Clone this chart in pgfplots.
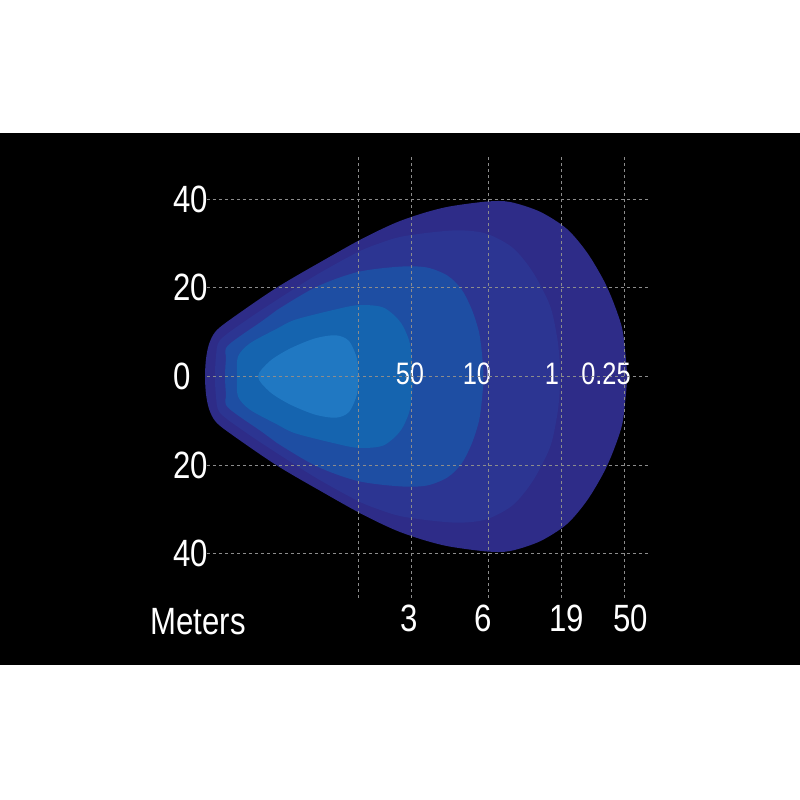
\documentclass[border=0pt]{standalone}
\usepackage{fontspec}
\setmainfont{Liberation Sans}[FakeStretch=0.82]
\usepackage{pgfplots}
\pgfplotsset{compat=1.18}
\definecolor{cA}{RGB}{46,44,136}
\definecolor{cB}{RGB}{44,53,146}
\definecolor{cC}{RGB}{30,78,163}
\definecolor{cD}{RGB}{21,100,175}
\definecolor{cE}{RGB}{32,120,194}
\definecolor{gridc}{RGB}{140,140,140}
\begin{document}
\begin{tikzpicture}
\fill[white] (0,0) rectangle (400pt,400pt);
\fill[black] (0,67.5pt) rectangle (400pt,333.5pt);
\begin{axis}[
  at={(103.5pt,101pt)}, anchor=south west,
  scale only axis, width=221.5pt, height=221.5pt,
  xmin=207, xmax=650, ymin=-50, ymax=50,
  clip=false, axis on top,
  axis line style={draw=none},
  major tick length=0pt,
  ytick={-40,-20,0,20,40}, yticklabels={40,20,0,20,40},
  xtick={409.5,483,567,631}, xticklabels={3,6,19,50},
  extra x ticks={358,411,488,561,624}, extra x tick labels={},
  extra x tick style={xmajorgrids=true},
  xmajorgrids=false, ymajorgrids=true,
  grid style={gridc, line width=0.45pt, dash pattern=on 1.6pt off 1.4pt},
  /pgf/number format/assume math mode=true,
  tick label style={white, font=\fontsize{19}{19}\selectfont},
  yticklabel style={anchor=west, inner sep=0pt, xshift=-17pt},
  xticklabel style={anchor=north, inner sep=0pt, yshift=-3.5pt},
]
% 0.25 lux
\addplot[draw=none, fill=cA, smooth cycle] coordinates {
(627,0) (625.5,5) (622,11) (613,17) (603,22) (587,28) (567,33.3) (540,37.2) (510,39.4) (487,39.5) (450,38.4) (425,37.0) (400,35.1) (380,33.1) (358,30.6) (328,26.8) (277,20.1) (228,12.5) (215,10) (209,7.3) (206,4) (205,0)
(206,-4) (209,-7.3) (215,-10) (228,-12.5) (277,-20.1) (328,-26.8) (358,-30.6) (380,-33.1) (400,-35.1) (425,-37.0) (450,-38.4) (487,-39.5) (510,-39.4) (540,-37.2) (567,-33.3) (587,-28) (603,-22) (613,-17) (622,-11) (625.5,-5)
};
% 1 lux
\addplot[draw=none, fill=cB, smooth cycle] coordinates {
(560,0) (559.5,4) (557,9) (550,16) (533,23.5) (513,29) (487,32.2) (460,33) (430,32.5) (400,31.5) (380,30.1) (358,28.1) (317,23) (277,17.3) (245,12.5) (220,8.2) (216,4.5) (215,0)
(216,-4.5) (220,-8.2) (245,-12.5) (277,-17.3) (317,-23) (358,-28.1) (380,-30.1) (400,-31.5) (430,-32.5) (460,-33) (487,-32.2) (513,-29) (533,-23.5) (550,-16) (557,-9) (559.5,-4)
};
% 10 lux
\addplot[draw=none, fill=cC, smooth cycle] coordinates {
(483.5,0) (482,5) (479,10) (472,15) (462,19.5) (448,22.7) (427,24.6) (400,24.8) (358,23.6) (317,20.3) (277,15) (262,12.5) (228,7) (226,4) (225,0)
(226,-4) (228,-7) (262,-12.5) (277,-15) (317,-20.3) (358,-23.6) (400,-24.8) (427,-24.6) (448,-22.7) (462,-19.5) (472,-15) (479,-10) (482,-5)
};
% 50 lux
\addplot[draw=none, fill=cD, smooth cycle] coordinates {
(413,0) (412,4) (409,8.2) (400,12.4) (383,15.6) (358,16.1) (333,15) (295,12.8) (277,10.8) (250,7.5) (238,4.5) (237,0)
(238,-4.5) (250,-7.5) (277,-10.8) (295,-12.8) (333,-15) (358,-16.1) (383,-15.6) (400,-12.4) (409,-8.2) (412,-4)
};
% innermost
\addplot[draw=none, fill=cE, smooth cycle] coordinates {
(358,0) (357,4) (349,8) (336,9.3) (315,8.6) (290,6.3) (270,3.5) (258,0)
(270,-3.5) (290,-6.3) (315,-8.6) (336,-9.3) (349,-8) (357,-4)
};
\node[white, font=\fontsize{15.5}{15.5}\selectfont] at (axis cs:410,0.6) {50};
\node[white, font=\fontsize{15.5}{15.5}\selectfont] at (axis cs:477,0.6) {10};
\node[white, font=\fontsize{15.5}{15.5}\selectfont] at (axis cs:552,0.6) {1};
\node[white, font=\fontsize{15.5}{15.5}\selectfont] at (axis cs:606,0.6) {0.25};
\node[white, anchor=north west, inner sep=0pt, font=\fontsize{19}{19}\selectfont] at (axis cs:150,-52.3) {Meters};
\end{axis}
\end{tikzpicture}
\end{document}
